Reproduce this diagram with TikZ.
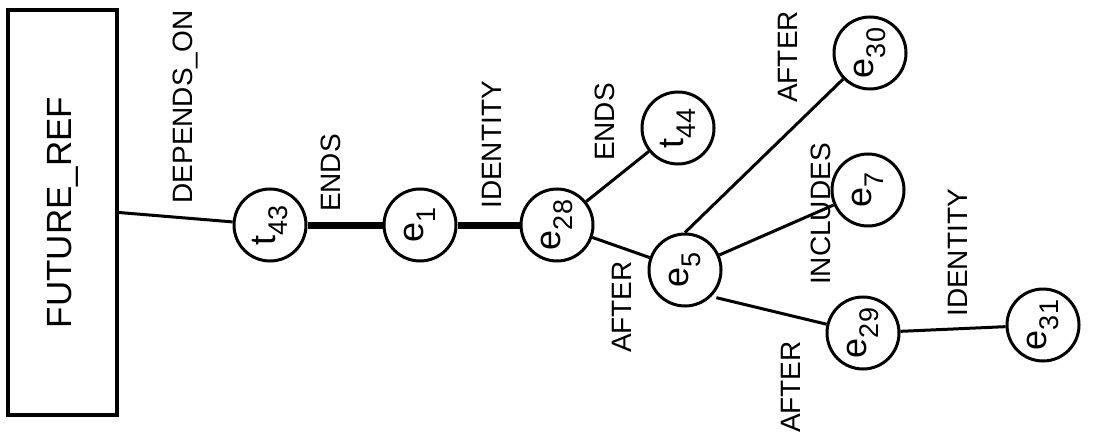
\documentclass[tikz,border=0pt]{standalone}
\usepackage{fontspec}
\setmainfont{Liberation Sans}
\newcommand{\ev}[2]{#1\raisebox{-0.35em}{\fontsize{27}{27}\selectfont #2}}
\begin{document}
\begin{tikzpicture}[x=1pt,y=1pt,
  ev/.style={circle,draw,line width=3pt,minimum size=72pt,inner sep=0pt,rotate=90,font=\fontsize{36}{36}\selectfont},
  lbl/.style={rotate=90,inner sep=0pt,font=\fontsize{28}{28}\selectfont},
  edge/.style={line width=3pt},
  thickedge/.style={line width=7pt}]
\useasboundingbox (0,0) rectangle (1094,445);
\node[draw,line width=4pt,rotate=90,minimum width=405pt,minimum height=109pt,inner sep=0pt,font=\fontsize{35}{35}\selectfont] (fr) at (62.5,232.5) {FUTURE\_REF};
\node[ev] (t43) at (270,220) {\ev{t}{43}};
\node[ev] (e1) at (420,220) {\ev{e}{1}};
\node[ev] (e28) at (557,220) {\ev{e}{28}};
\node[ev] (t44) at (678,317) {\ev{t}{44}};
\node[ev] (e30) at (870,392) {\ev{e}{30}};
\node[ev] (e7) at (868,255) {\ev{e}{7}};
\node[ev] (e5) at (685,175) {\ev{e}{5}};
\node[ev] (e29) at (863,112) {\ev{e}{29}};
\node[ev] (e31) at (1043,120) {\ev{e}{31}};
\draw[edge] (fr.south) -- (t43);
\draw[thickedge] (t43) -- (e1);
\draw[thickedge] (e1) -- (e28);
\draw[edge] (e28) -- (t44);
\draw[edge] (e28) -- (e5);
\draw[edge] (e5.east) -- (e30);
\draw[edge] (e5) -- (e7);
\draw[edge,shorten <=5pt] (e5.south west) -- (e29);
\draw[edge] (e29) -- (e31);
\node[lbl] (l1) at (186,338) {DEPENDS\_ON};
\node[lbl] (l2) at (331,272) {ENDS};
\node[lbl] (l3) at (492,300) {IDENTITY};
\node[lbl] (l4) at (605,323) {ENDS};
\node[lbl] (l5) at (788,388) {AFTER};
\node[lbl] (l6) at (821,231) {INCLUDES};
\node[lbl] (l7) at (622,138) {AFTER};
\node[lbl] (l8) at (791,58) {AFTER};
\node[lbl] (l9) at (958,192) {IDENTITY};
\end{tikzpicture}
\end{document}
